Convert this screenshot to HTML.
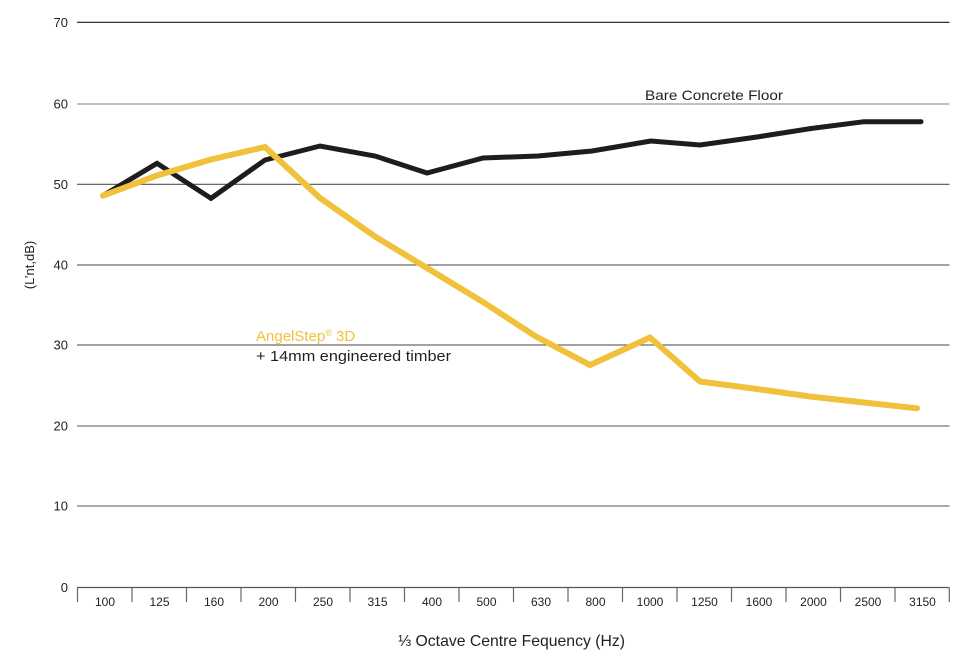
<!DOCTYPE html>
<html>
<head>
<meta charset="utf-8">
<style>
  html, body { margin:0; padding:0; background:#ffffff; }
  svg { display:block; }
  text { font-family: "Liberation Sans", sans-serif; fill:#231f20; }
</style>
</head>
<body>
<svg width="966" height="661" viewBox="0 0 966 661" xmlns="http://www.w3.org/2000/svg">
  <!-- gridlines -->
  <line x1="77" y1="22.3" x2="949.5" y2="22.3" stroke="#1a1a1a" stroke-width="1.2"/>
  <line x1="77" y1="104" x2="949.5" y2="104" stroke="#9a9a9a" stroke-width="1.3"/>
  <line x1="77" y1="184.3" x2="949.5" y2="184.3" stroke="#555" stroke-width="1.1"/>
  <line x1="77" y1="265" x2="949.5" y2="265" stroke="#444" stroke-width="1.1"/>
  <line x1="77" y1="345" x2="949.5" y2="345" stroke="#444" stroke-width="1.1"/>
  <line x1="77" y1="426" x2="949.5" y2="426" stroke="#555" stroke-width="1.1"/>
  <line x1="77" y1="506" x2="949.5" y2="506" stroke="#555" stroke-width="1.1"/>
  <line x1="77" y1="587.5" x2="949.5" y2="587.5" stroke="#555" stroke-width="1.3"/>

  <!-- tick marks -->
  <g stroke="#666" stroke-width="1.2">
    <line x1="77.5" y1="588" x2="77.5" y2="602"/>
    <line x1="132" y1="588" x2="132" y2="602"/>
    <line x1="186.5" y1="588" x2="186.5" y2="602"/>
    <line x1="241" y1="588" x2="241" y2="602"/>
    <line x1="295.5" y1="588" x2="295.5" y2="602"/>
    <line x1="350" y1="588" x2="350" y2="602"/>
    <line x1="404.5" y1="588" x2="404.5" y2="602"/>
    <line x1="459" y1="588" x2="459" y2="602"/>
    <line x1="513.5" y1="588" x2="513.5" y2="602"/>
    <line x1="568" y1="588" x2="568" y2="602"/>
    <line x1="622.5" y1="588" x2="622.5" y2="602"/>
    <line x1="677" y1="588" x2="677" y2="602"/>
    <line x1="731.5" y1="588" x2="731.5" y2="602"/>
    <line x1="786" y1="588" x2="786" y2="602"/>
    <line x1="840.5" y1="588" x2="840.5" y2="602"/>
    <line x1="895" y1="588" x2="895" y2="602"/>
    <line x1="949.3" y1="588" x2="949.3" y2="602"/>
  </g>

  <!-- y labels -->
  <g font-size="13" text-anchor="end">
    <text x="68" y="27">70</text>
    <text x="68" y="108.5">60</text>
    <text x="68" y="189">50</text>
    <text x="68" y="269.5">40</text>
    <text x="68" y="349.5">30</text>
    <text x="68" y="430.5">20</text>
    <text x="68" y="510.5">10</text>
    <text x="68" y="592">0</text>
  </g>

  <!-- x labels -->
  <g font-size="12" text-anchor="middle">
    <text x="105" y="606">100</text>
    <text x="159.5" y="606">125</text>
    <text x="214" y="606">160</text>
    <text x="268.5" y="606">200</text>
    <text x="323" y="606">250</text>
    <text x="377.5" y="606">315</text>
    <text x="432" y="606">400</text>
    <text x="486.5" y="606">500</text>
    <text x="541" y="606">630</text>
    <text x="595.5" y="606">800</text>
    <text x="650" y="606">1000</text>
    <text x="704.5" y="606">1250</text>
    <text x="759" y="606">1600</text>
    <text x="813.5" y="606">2000</text>
    <text x="868" y="606">2500</text>
    <text x="922.5" y="606">3150</text>
  </g>

  <!-- axis titles -->
  <text x="398" y="646" font-size="16" textLength="227" lengthAdjust="spacingAndGlyphs">⅓ Octave Centre Fequency (Hz)</text>
  <text transform="translate(34,265) rotate(-90)" font-size="13" text-anchor="middle">(L’nt,dB)</text>

  <!-- series: bare concrete -->
  <polyline fill="none" stroke="#1d1d1b" stroke-width="5" stroke-linejoin="miter" stroke-linecap="round"
    points="103,195.7 157,163.3 211,198.3 265,160 320,146 375,156 427,173 483,158 538,156 592,151 651,141 700,145 757,137 811,128.5 864,121.7 921,121.7"/>

  <!-- series: AngelStep -->
  <polyline fill="none" stroke="#f1c13c" stroke-width="6" stroke-linejoin="miter" stroke-linecap="round"
    points="103,195.7 157,175.5 211,159.5 265,147 320,198 375,236.5 427,268 483,302 536,336.5 590,365 650,337.5 700,381.5 757,389 810,396.5 864,402.5 917,408.3"/>

  <!-- legend labels -->
  <text x="645" y="100" font-size="14" textLength="138" lengthAdjust="spacingAndGlyphs">Bare Concrete Floor</text>
  <text x="256" y="341" font-size="15" style="fill:#f1c13c">AngelStep<tspan font-size="9" dy="-5">®</tspan><tspan dy="5"> 3D</tspan></text>
  <text x="256" y="361" font-size="15" textLength="195" lengthAdjust="spacingAndGlyphs">+ 14mm engineered timber</text>
</svg>
</body>
</html>
